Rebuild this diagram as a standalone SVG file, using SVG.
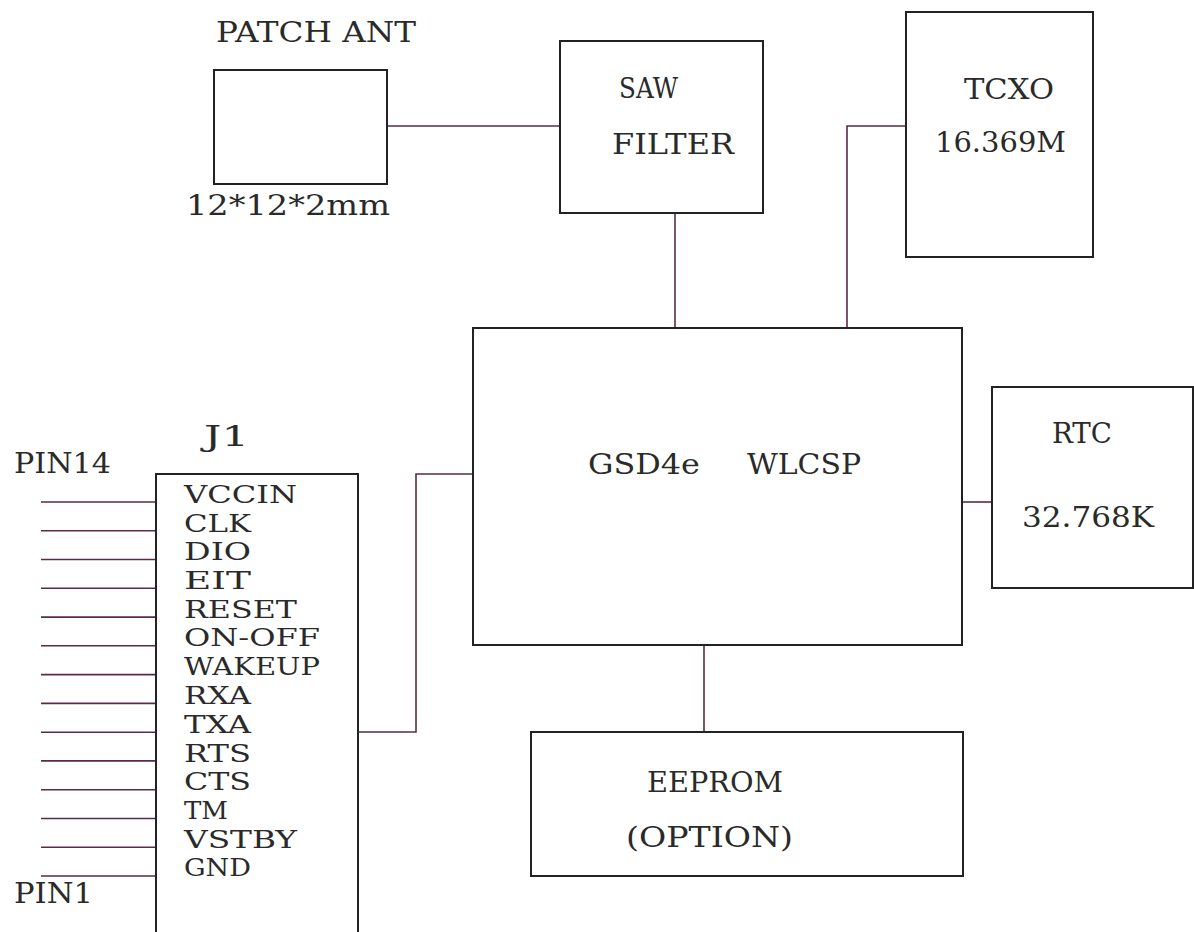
<svg xmlns="http://www.w3.org/2000/svg" width="1194" height="932" viewBox="0 0 1194 932">
<style>
.box{fill:#fff;stroke:#222;stroke-width:2}
.wire{fill:none;stroke:#5a2c47;stroke-width:1.6}
.t{font-family:"DejaVu Serif","Liberation Serif",serif;fill:#2a2a2a;font-size:27.5px}
.s{font-size:24.5px}
</style>
<rect width="1194" height="932" fill="#fff"/>
<g id="connectors">
<path class="wire" d="M387 126H560"/>
<path class="wire" d="M675 213V328"/>
<path class="wire" d="M906 126H847V328"/>
<path class="wire" d="M962 502H992"/>
<path class="wire" d="M704 645V732"/>
<path class="wire" d="M358 732H416V474H473"/>
<path class="wire" d="M41 502H156M41 530.8H156M41 559.5H156M41 588.3H156M41 617.1H156M41 645.8H156M41 674.6H156M41 703.4H156M41 732.2H156M41 760.9H156M41 789.7H156M41 818.5H156M41 847.2H156M41 876H156"/>
</g>
<g id="patch-ant">
<rect class="box" x="214" y="70" width="173" height="114"/>
<text class="t" x="216" y="42" textLength="200" lengthAdjust="spacingAndGlyphs">PATCH ANT</text>
<text class="t" x="186" y="215" textLength="204" lengthAdjust="spacingAndGlyphs">12*12*2mm</text>
</g>
<g id="saw-filter">
<rect class="box" x="560" y="41" width="203" height="172"/>
<text class="t" x="619" y="98" textLength="59" lengthAdjust="spacingAndGlyphs">SAW</text>
<text class="t" x="612" y="154" textLength="122" lengthAdjust="spacingAndGlyphs">FILTER</text>
</g>
<g id="tcxo">
<rect class="box" x="906" y="12" width="187" height="245"/>
<text class="t" x="964" y="99" textLength="90" lengthAdjust="spacingAndGlyphs">TCXO</text>
<text class="t" x="935" y="152" font-size="26" textLength="131" lengthAdjust="spacingAndGlyphs">16.369M</text>
</g>
<g id="gsd4e">
<rect class="box" x="473" y="328" width="489" height="317"/>
<text class="t" x="588" y="474" font-size="28" textLength="112" lengthAdjust="spacingAndGlyphs">GSD4e</text>
<text class="t" x="747" y="474" font-size="28" textLength="114" lengthAdjust="spacingAndGlyphs">WLCSP</text>
</g>
<g id="rtc">
<rect class="box" x="992" y="387" width="201" height="201"/>
<text class="t" x="1052" y="443" font-size="25" textLength="60" lengthAdjust="spacingAndGlyphs">RTC</text>
<text class="t" x="1022" y="527" textLength="132" lengthAdjust="spacingAndGlyphs">32.768K</text>
</g>
<g id="eeprom">
<rect class="box" x="531" y="732" width="432" height="144"/>
<text class="t" x="647" y="792" font-size="30" textLength="136" lengthAdjust="spacingAndGlyphs">EEPROM</text>
<text class="t" x="626" y="847" font-size="29" textLength="167" lengthAdjust="spacingAndGlyphs">(OPTION)</text>
</g>
<g id="j1">
<rect class="box" x="156" y="474" width="202" height="480"/>
<text class="t" x="204" y="446" textLength="45" lengthAdjust="spacingAndGlyphs">J1</text>
<text class="t" x="14" y="473" font-size="23.5" textLength="97" lengthAdjust="spacingAndGlyphs">PIN14</text>
<text class="t" x="14" y="903" font-size="23.5" textLength="79" lengthAdjust="spacingAndGlyphs">PIN1</text>
<g class="t s">
<text x="184" y="503" textLength="113" lengthAdjust="spacingAndGlyphs">VCCIN</text>
<text x="184" y="532" textLength="67" lengthAdjust="spacingAndGlyphs">CLK</text>
<text x="184" y="560" textLength="67" lengthAdjust="spacingAndGlyphs">DIO</text>
<text x="184" y="589" textLength="67" lengthAdjust="spacingAndGlyphs">EIT</text>
<text x="184" y="618" textLength="113" lengthAdjust="spacingAndGlyphs">RESET</text>
<text x="184" y="646" textLength="136" lengthAdjust="spacingAndGlyphs">ON-OFF</text>
<text x="184" y="675" textLength="136" lengthAdjust="spacingAndGlyphs">WAKEUP</text>
<text x="184" y="704" textLength="67" lengthAdjust="spacingAndGlyphs">RXA</text>
<text x="184" y="733" textLength="67" lengthAdjust="spacingAndGlyphs">TXA</text>
<text x="184" y="762" textLength="67" lengthAdjust="spacingAndGlyphs">RTS</text>
<text x="184" y="790" textLength="67" lengthAdjust="spacingAndGlyphs">CTS</text>
<text x="184" y="819" textLength="44" lengthAdjust="spacingAndGlyphs">TM</text>
<text x="184" y="848" textLength="113" lengthAdjust="spacingAndGlyphs">VSTBY</text>
<text x="184" y="876" textLength="67" lengthAdjust="spacingAndGlyphs">GND</text>
</g>
</g>
</svg>
